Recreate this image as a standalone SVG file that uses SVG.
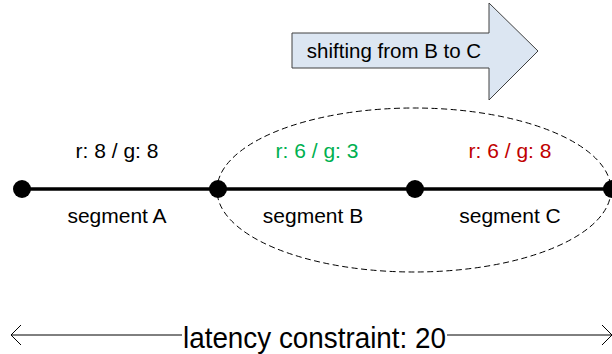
<svg xmlns="http://www.w3.org/2000/svg" width="612" height="354" viewBox="0 0 612 354">
  <style>
    .lbl { font-family: "Liberation Sans", Arial, sans-serif; font-size: 21px; fill: #000; text-anchor: middle; }
    .node { fill: #000; }
    .seg { stroke: #000; stroke-width: 3.5; fill: none; }
    .thin { stroke: #000; stroke-width: 1; fill: none; }
  </style>
  <defs>
    <marker id="openArrow" viewBox="0 0 12 22" refX="11" refY="11" markerWidth="12" markerHeight="22" markerUnits="userSpaceOnUse" orient="auto-start-reverse">
      <path d="M1,1 L11,11 L1,21" fill="none" stroke="#000" stroke-width="1"/>
    </marker>
  </defs>

  <!-- shift indicator -->
  <g id="shift-arrow">
    <polygon points="292,33 489,33 489,3 538,51 489,100 489,68 292,68" fill="#DCE6F2" stroke="#404040" stroke-width="1"/>
    <text class="lbl" x="394" y="58" style="font-size:20.5px">shifting from B to C</text>
  </g>

  <!-- grouping of segments B and C -->
  <g id="group-bc">
    <ellipse cx="414" cy="190" rx="197" ry="82" fill="none" stroke="#000" stroke-width="1" stroke-dasharray="6,3.5"/>
  </g>

  <g id="connectors">
    <line class="seg" x1="22" y1="189" x2="612" y2="189"/>
    <line class="thin" x1="11" y1="335" x2="182" y2="335" marker-start="url(#openArrow)"/>
    <line class="thin" x1="447" y1="335" x2="612" y2="335" marker-end="url(#openArrow)"/>
  </g>

  <g id="node-1"><circle class="node" cx="22" cy="189" r="9"/></g>
  <g id="node-2"><circle class="node" cx="218" cy="189" r="9"/></g>
  <g id="node-3"><circle class="node" cx="415" cy="189" r="9"/></g>
  <g id="node-4"><circle class="node" cx="612" cy="189" r="9"/></g>

  <g id="segment-a">
    <text class="lbl" x="117" y="158">r: 8 / g: 8</text>
    <text class="lbl" x="117" y="223">segment A</text>
  </g>
  <g id="segment-b">
    <text class="lbl" x="317" y="158" style="fill:#00B050">r: 6 / g: 3</text>
    <text class="lbl" x="313" y="223">segment B</text>
  </g>
  <g id="segment-c">
    <text class="lbl" x="510" y="158" style="fill:#C00000">r: 6 / g: 8</text>
    <text class="lbl" x="510" y="223">segment C</text>
  </g>

  <g id="latency">
    <text x="183" y="348" textLength="263" lengthAdjust="spacingAndGlyphs" style="font-family:'Liberation Sans', Arial, sans-serif; font-size:29px">latency constraint: 20</text>
  </g>
</svg>
